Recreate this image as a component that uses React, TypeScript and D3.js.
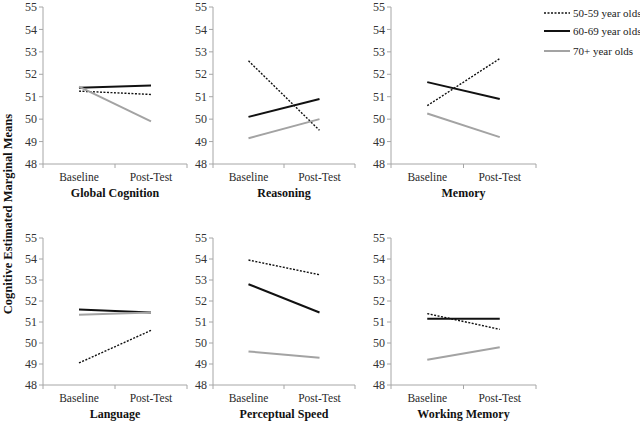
import React from "react"
import * as d3 from "d3"

const timepoints = ["Baseline", "Post-Test"]
const groups = ["50-59 year olds", "60-69 year olds", "70+ year olds"]
const domains = ["Global Cognition", "Reasoning", "Memory", "Language", "Perceptual Speed", "Working Memory"]

// estimated marginal means, [baseline, post-test] for each domain
const age5059 = [[51.25, 51.1], [52.6, 49.5], [50.6, 52.7], [49.05, 50.6], [53.95, 53.25], [51.4, 50.65]]
const age6069 = [[51.4, 51.5], [50.1, 50.9], [51.65, 50.9], [51.6, 51.45], [52.8, 51.45], [51.15, 51.15]]
const age70 = [[51.45, 49.9], [49.15, 50.0], [50.25, 49.2], [51.35, 51.45], [49.6, 49.3], [49.2, 49.8]]
const yTicks = [48, 49, 50, 51, 52, 53, 54, 55]

const font = "Liberation Serif"
const axisColor = "#a6a6a6"
const series = [age5059, age6069, age70]
const styles = [
  { stroke: "#111", width: 1.4, dash: "2,1.5" },
  { stroke: "#111", width: 2, dash: undefined },
  { stroke: "#a3a3a3", width: 2, dash: undefined },
]

// panel frames: left/right and top/bottom
const cols = [[43, 187], [213, 355], [391, 536]]
const rows = [[7, 164], [238, 385]]

function Panel({ i }: { i: number }) {
  const [x0, x1] = cols[i % 3]
  const [y0, y1] = rows[Math.floor(i / 3)]
  const x = d3.scaleBand().domain(timepoints).range([x0, x1])
  const y = d3.scaleLinear().domain([48, 55]).range([y1, y0])
  const cx = (t: string) => (x(t) as number) + x.bandwidth() / 2
  const line = d3.line<number>()
    .x((d, j) => cx(timepoints[j]))
    .y(d => y(d))
  const edges = [x0, x(timepoints[1]) as number, x1]

  return (
    <g>
      <line x1={x0} x2={x0} y1={y0} y2={y1} stroke={axisColor} />
      {yTicks.map(t => (
        <g key={t}>
          <line x1={x0 - 4} x2={x0} y1={y(t)} y2={y(t)} stroke={axisColor} />
          <text x={x0 - 6} y={y(t)} dy="0.34em" textAnchor="end"
            style={{ fontFamily: font, fontSize: 12 }} fill="#333">{t}</text>
        </g>
      ))}
      <line x1={x0} x2={x1} y1={y1} y2={y1} stroke={axisColor} />
      {edges.map((e, k) => (
        <line key={k} x1={e} x2={e} y1={y1} y2={y1 + 4} stroke={axisColor} />
      ))}
      {timepoints.map(t => (
        <text key={t} x={cx(t)} y={y1 + 17} textAnchor="middle"
          style={{ fontFamily: font, fontSize: 11.5 }} fill="#2a2a2a">{t}</text>
      ))}
      <text x={(x0 + x1) / 2} y={y1 + 33} textAnchor="middle"
        style={{ fontFamily: font, fontSize: 12, fontWeight: "bold" }} fill="#111">{domains[i]}</text>
      {series.map((s, k) => (
        <path key={k} d={line(s[i]) || ""} fill="none" stroke={styles[k].stroke}
          strokeWidth={styles[k].width} strokeDasharray={styles[k].dash} />
      ))}
    </g>
  )
}

export default function App() {
  const legendY = [13, 31, 51]
  return (
    <svg width={640} height={423} style={{ position: "absolute", left: 0, top: 0, background: "#fff" }}>
      {domains.map((d, i) => <Panel key={d} i={i} />)}
      <text transform="translate(12,214) rotate(-90)" textAnchor="middle"
        style={{ fontFamily: font, fontSize: 12.5, fontWeight: "bold" }} fill="#111">
        Cognitive Estimated Marginal Means
      </text>
      {groups.map((g, k) => (
        <g key={g}>
          <line x1={544} x2={570} y1={legendY[k]} y2={legendY[k]} stroke={styles[k].stroke}
            strokeWidth={styles[k].width} strokeDasharray={styles[k].dash} />
          <text x={573} y={legendY[k]} dy="0.33em" style={{ fontFamily: font, fontSize: 11 }} fill="#222">{g}</text>
        </g>
      ))}
    </svg>
  )
}
